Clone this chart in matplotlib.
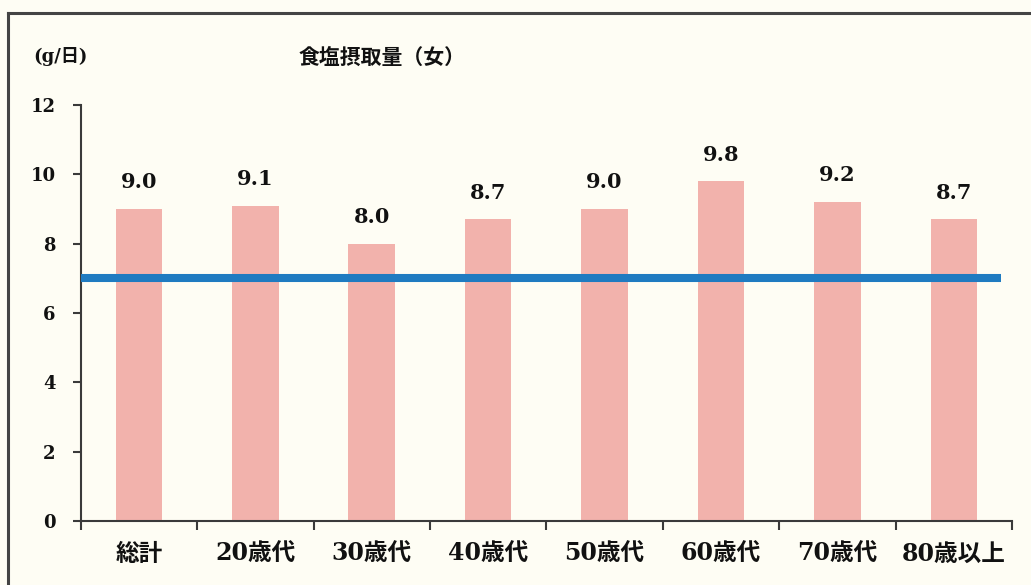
import matplotlib
matplotlib.use("Agg")
import matplotlib.pyplot as plt
from matplotlib.lines import Line2D
import numpy as np

categories = ["総計", "20歳代", "30歳代", "40歳代", "50歳代", "60歳代", "70歳代", "80歳以上"]
values = [9.0, 9.1, 8.0, 8.7, 9.0, 9.8, 9.2, 8.7]
target = 7.0
yticks = [0, 2, 4, 6, 8, 10, 12]
title = "食塩摂取量（女）"
unit = "(g/日)"

BG = "#fefdf4"
PINK = "#f2b2ac"
BLUE = "#1f7bc1"
AX = "#3a3a3a"
FAM = ["DejaVu Serif", "Noto Sans CJK JP"]

plt.rcParams['font.family'] = FAM

fig = plt.figure(figsize=(10.31, 5.85), dpi=100, facecolor=BG)
ax = fig.add_axes([0.0783, 0.1094, 0.9033, 0.7111], facecolor=BG)

x = np.arange(len(categories))
bars = ax.bar(x, values, width=0.40, color=PINK, zorder=2)
ax.axhline(target, xmin=0, xmax=0.988, color=BLUE, lw=5.8, zorder=3, solid_capstyle='butt')

for xi, v in zip(x, values):
    ax.annotate(f"{v:.1f}", (xi, v), xytext=(0, 12), textcoords="offset points",
                ha="center", va="bottom", fontsize=15, fontweight="bold",
                family=FAM, color="#111111")

ax.set_xlim(-0.5, len(categories) - 0.5)
ax.set_ylim(0, 12)
ax.set_yticks(yticks)
ax.set_yticklabels([str(t) for t in yticks], fontsize=13, fontweight="bold", color="#111111")
ax.set_xticks(x)
ax.set_xticklabels(categories, fontsize=17, fontweight="bold", color="#111111")
ax.set_xticks(np.arange(-0.5, len(categories)), minor=True)
ax.tick_params(axis="x", which="major", length=0, pad=15)
ax.tick_params(axis="x", which="minor", length=6.5, width=1.5, color=AX, direction="out")
ax.tick_params(axis="y", which="major", length=6, width=1.5, color=AX, direction="out", pad=12)

for s in ["top", "right"]:
    ax.spines[s].set_visible(False)
for s in ["left", "bottom"]:
    ax.spines[s].set_color(AX)
    ax.spines[s].set_linewidth(1.5)

fig.text(0.371, 0.9026, title, ha="center", va="center", fontsize=15, fontweight="bold",
         family=["Noto Sans CJK JP", "DejaVu Sans"], color="#111111")
fig.text(0.032, 0.9026, unit, ha="left", va="center", fontsize=13, fontweight="bold",
         family=FAM, color="#111111")

# outer frame (top and left edges of the scanned box)
fig.add_artist(Line2D([0.008, 1.0], [1 - 13 / 585, 1 - 13 / 585], transform=fig.transFigure,
                      color="#444444", lw=2.2))
fig.add_artist(Line2D([0.008, 0.008], [0.0, 1 - 13 / 585], transform=fig.transFigure,
                      color="#444444", lw=2.2))

fig.savefig("out.png", dpi=100, facecolor=BG)
